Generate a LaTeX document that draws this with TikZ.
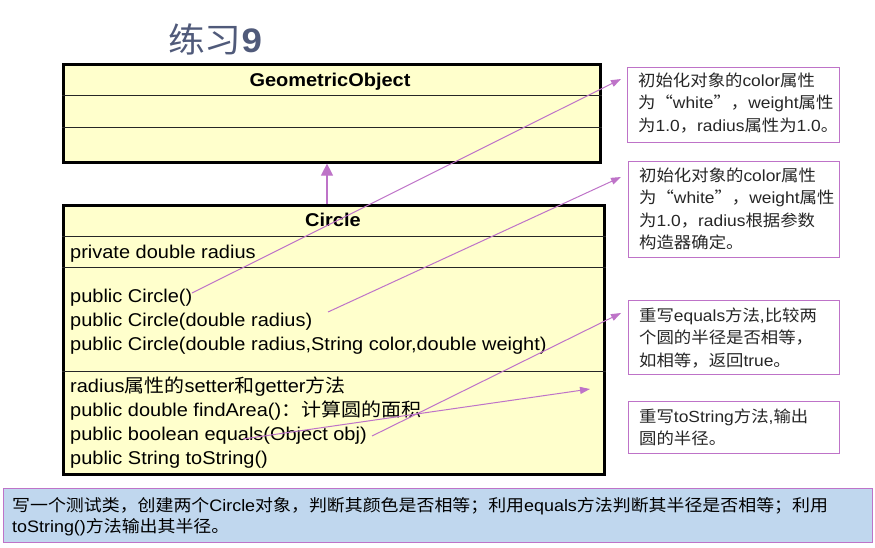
\documentclass[tikz,border=0pt]{standalone}
\usepackage{fontspec}
\setmainfont{Liberation Sans}[FakeStretch=1.08]
\newfontfamily\cjk{Noto Sans CJK SC}[FakeStretch=1.08]
\usetikzlibrary{arrows.meta}
\definecolor{umlyellow}{RGB}{255,255,204}
\definecolor{vline}{RGB}{190,115,200}
\definecolor{bluefill}{RGB}{192,215,238}
\definecolor{titlecol}{RGB}{80,90,122}
\newcommand\zh[1]{{\cjk #1}}
\tikzset{
  classbox/.style={draw=black, line width=2.6pt, fill=umlyellow, inner sep=0, anchor=north west},
  sepline/.style={draw=black!85, line width=1pt},
  notebox/.style={draw=vline, line width=1pt, fill=white, inner sep=0, anchor=north west},
  conn/.style={draw=vline, line width=1pt, -{Triangle[length=10pt,width=7pt]}},
  inh/.style={draw=vline, line width=1.2pt, -{Triangle[length=12pt,width=12pt]}},
  bodytext/.style={inner sep=0, anchor=base west, align=left, font=\fontsize{18.5}{24}\selectfont},
  notetext/.style={inner sep=0, anchor=base west, align=left, text=black!85, font=\fontsize{16.1}{22.5}\selectfont},
  headtext/.style={inner sep=0, anchor=base, font=\fontsize{18.5}{20}\selectfont\bfseries},
}
\begin{document}
\begin{tikzpicture}[x=1pt,y=-1pt]
\useasboundingbox (0,0) rectangle (875,547);
% title
\node[inner sep=0, anchor=base west, text=titlecol, font=\fontsize{34}{36}\selectfont] (title) at (168,52) {\zh{练习}\textbf{9}};
% GeometricObject
\node[classbox, minimum width=537pt, minimum height=98pt] (geo) at (62,63) {};
\draw[sepline] ([yshift=-32.5pt]geo.north west) -- ([yshift=-32.5pt]geo.north east);
\draw[sepline] ([yshift=-64pt]geo.north west) -- ([yshift=-64pt]geo.north east);
\node[headtext] (geoname) at (330,86) {GeometricObject};
% Circle
\node[classbox, minimum width=541pt, minimum height=269pt] (circ) at (62,204) {};
\draw[sepline] ([yshift=-32pt]circ.north west) -- ([yshift=-32pt]circ.north east);
\draw[sepline] ([yshift=-63pt]circ.north west) -- ([yshift=-63pt]circ.north east);
\draw[sepline] ([yshift=-167pt]circ.north west) -- ([yshift=-167pt]circ.north east);
\node[headtext] (circname) at (333,226) {Circle};
\node[bodytext] (attr) at (70,258) {private double radius};
\node[bodytext] (ctors) at (70,350) {public Circle()\\public Circle(double radius)\\public Circle(double radius,String color,double weight)};
\node[bodytext] (meths) at (70,464) {radius\zh{属性的}setter\zh{和}getter\zh{方法}\\public double findArea()\zh{：计算圆的面积}\\public boolean equals(Object obj)\\public String toString()};
% inheritance
\draw[inh] (circ.north -| 327,0) -- (geo.south -| 327,0);
% notes
\node[notebox, minimum width=212pt, minimum height=75pt] (n1) at (627,67) {};
\node[notetext] (n1t) at (638,131) {\zh{初始化对象的}color\zh{属性}\\\zh{为“}white\zh{”，}weight\zh{属性}\\\zh{为}1.0\zh{，}radius\zh{属性为}1.0\zh{。}};
\node[notebox, minimum width=211pt, minimum height=96pt] (n2) at (628,161) {};
\node[notetext] (n2t) at (639,248.5) {\zh{初始化对象的}color\zh{属性}\\\zh{为“}white\zh{”，}weight\zh{属性}\\\zh{为}1.0\zh{，}radius\zh{根据参数}\\\zh{构造器确定。}};
\node[notebox, minimum width=211pt, minimum height=74pt] (n3) at (628,300) {};
\node[notetext] (n3t) at (639,366) {\zh{重写}equals\zh{方法}{,}\zh{比较两}\\\zh{个圆的半径是否相等，}\\\zh{如相等，返回}true\zh{。}};
\node[notebox, minimum width=211pt, minimum height=52pt] (n4) at (628,401) {};
\node[notetext] (n4t) at (639,444.5) {\zh{重写}toString\zh{方法}{,}\zh{输出}\\\zh{圆的半径。}};
% connectors
\coordinate (s1) at (192,293); \coordinate (t1) at (621,79);
\coordinate (s2) at (328,312); \coordinate (t2) at (621,177);
\coordinate (s3) at (372,436); \coordinate (t3) at (621,313);
\coordinate (s4) at (243,439); \coordinate (t4) at (590,389);
\draw[conn] (s1) -- (t1);
\draw[conn] (s2) -- (t2);
\draw[conn] (s3) -- (t3);
\draw[conn] (s4) -- (t4);
% bottom task box
\node[draw=vline, line width=1pt, fill=bluefill, inner sep=0, anchor=north west, minimum width=869pt, minimum height=54pt] (task) at (3,488) {};
\node[inner sep=0, anchor=base west, align=left, font=\fontsize{16.6}{21}\selectfont] (taskt) at (12,532) {\zh{写一个测试类，创建两个}Circle\zh{对象，判断其颜色是否相等；利用}equals\zh{方法判断其半径是否相等；利用}\\toString()\zh{方法输出其半径。}};
\end{tikzpicture}
\end{document}
